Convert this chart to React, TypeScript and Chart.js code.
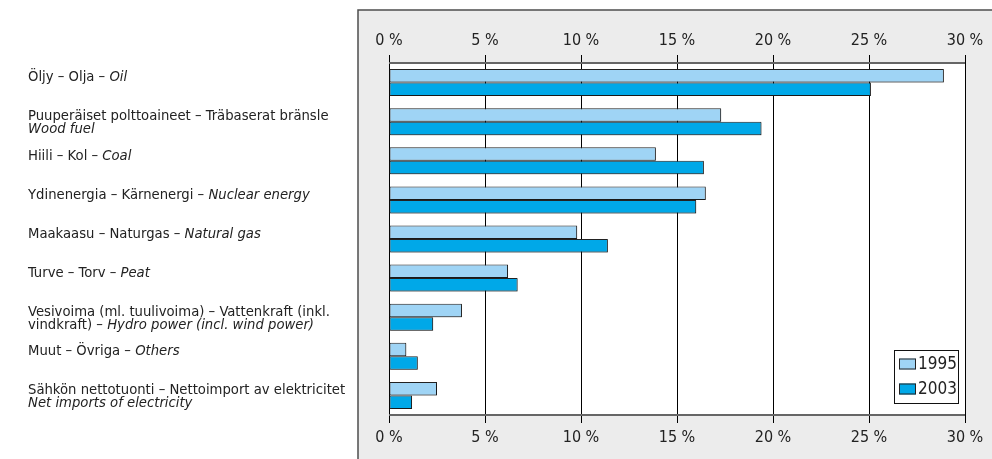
import React, { useEffect, useRef } from "react";
import { Chart, registerables } from "chart.js";

Chart.register(...registerables);

// ---- data ----
const categories = [
  "Oil",
  "Wood fuel",
  "Coal",
  "Nuclear energy",
  "Natural gas",
  "Peat",
  "Hydro power (incl. wind power)",
  "Others",
  "Net imports of electricity",
];

// label text lines: each line is a list of [text, italic]
const labelLines: [string, boolean][][][] = [
  [[["Öljy – Olja – ", false], ["Oil", true]]],
  [[["Puuperäiset polttoaineet – Träbaserat bränsle", false]], [["Wood fuel", true]]],
  [[["Hiili – Kol – ", false], ["Coal", true]]],
  [[["Ydinenergia – Kärnenergi – ", false], ["Nuclear energy", true]]],
  [[["Maakaasu – Naturgas – ", false], ["Natural gas", true]]],
  [[["Turve – Torv – ", false], ["Peat", true]]],
  [
    [["Vesivoima (ml. tuulivoima) – Vattenkraft (inkl.", false]],
    [["vindkraft) – ", false], ["Hydro power (incl. wind power)", true]],
  ],
  [[["Muut – Övriga – ", false], ["Others", true]]],
  [[["Sähkön nettotuonti – Nettoimport av elektricitet", false]], [["Net imports of electricity", true]]],
];

const series1995 = [28.9, 17.3, 13.9, 16.5, 9.8, 6.2, 3.8, 0.9, 2.5];
const series2003 = [25.1, 19.4, 16.4, 16.0, 11.4, 6.7, 2.3, 1.5, 1.2];
const seriesNames = ["1995", "2003"];
const xMin = 0;
const xMax = 30;
const xStep = 5;
const tickSuffix = " %";

const COLOR_1995 = "#9fd4f5";
const COLOR_2003 = "#00a8e8";
const FONT = '"Liberation Sans Narrow", "DejaVu Sans Condensed", "Roboto Condensed", "Liberation Sans", sans-serif';
const TEXT = "#222222";

const backgroundPlugin = {
  id: "bgPanel",
  beforeDraw(chart: any) {
    const { ctx, chartArea } = chart;
    ctx.save();
    ctx.fillStyle = "#ffffff";
    ctx.fillRect(0, 0, chart.width, chart.height);
    const bx = chartArea.left - 31;
    const by = chartArea.top - 53;
    ctx.fillStyle = "#ececec";
    ctx.fillRect(bx, by, chart.width - bx + 10, chart.height - by + 10);
    ctx.strokeStyle = "#4d4d4d";
    ctx.lineWidth = 1.5;
    ctx.strokeRect(bx, by, chart.width - bx + 10, chart.height - by + 10);
    ctx.fillStyle = "#ffffff";
    ctx.fillRect(chartArea.left, chartArea.top, chartArea.right - chartArea.left, chartArea.bottom - chartArea.top);
    ctx.restore();
  },
  beforeDatasetsDraw(chart: any) {
    const { ctx } = chart;
    ctx.save();
    ctx.shadowColor = "rgba(0,0,0,0.25)";
    ctx.shadowOffsetX = 1;
    ctx.shadowOffsetY = 1;
    ctx.shadowBlur = 0;
  },
  afterDatasetsDraw(chart: any) {
    chart.ctx.restore();
  },
  afterDraw(chart: any) {
    const { ctx, chartArea } = chart;
    ctx.save();
    ctx.strokeStyle = "#666666";
    ctx.lineWidth = 2;
    ctx.beginPath();
    ctx.moveTo(chartArea.left, chartArea.top);
    ctx.lineTo(chartArea.right, chartArea.top);
    ctx.moveTo(chartArea.left, chartArea.bottom);
    ctx.lineTo(chartArea.right, chartArea.bottom);
    ctx.stroke();

    // category labels
    const yScale = chart.scales.y;
    ctx.fillStyle = TEXT;
    ctx.textBaseline = "middle";
    ctx.textAlign = "left";
    const lh = 13;
    labelLines.forEach((lines, i) => {
      const cy = yScale.getPixelForValue(i);
      let y = lines.length === 1 ? cy - 5 : cy - 5.5;
      lines.forEach((segs) => {
        let x = 28;
        segs.forEach(([txt, it]) => {
          ctx.font = (it ? "italic " : "") + "14.7px " + FONT;
          ctx.fillText(txt, x, y);
          x += ctx.measureText(txt).width;
        });
        y += lh;
      });
    });

    // legend
    const lw = 64;
    const lhgt = 53;
    const lx = chartArea.right - 7 - lw;
    const ly = chartArea.bottom - 12 - lhgt;
    ctx.fillStyle = "#ffffff";
    ctx.fillRect(lx, ly, lw, lhgt);
    ctx.strokeStyle = "#111";
    ctx.lineWidth = 1;
    ctx.strokeRect(lx + 0.5, ly + 0.5, lw, lhgt);
    chart.data.datasets.forEach((ds: any, k: number) => {
      const ry = ly + 14 + k * 25;
      ctx.fillStyle = ds.backgroundColor;
      ctx.fillRect(lx + 5, ry - 5.5, 17, 11);
      ctx.strokeStyle = "#222";
      ctx.strokeRect(lx + 5.5, ry - 5, 16, 10);
      ctx.fillStyle = TEXT;
      ctx.font = "17px " + FONT;
      ctx.fillText(ds.label, lx + 24, ry + 1);
    });
    ctx.restore();
  },
};

const tickCfg = {
  stepSize: xStep,
  color: TEXT,
  padding: 5,
  font: { size: 16, family: FONT },
  callback: (v: any) => v + tickSuffix,
};

export default function App() {
  const ref = useRef<HTMLCanvasElement | null>(null);
  useEffect(() => {
    if (!ref.current) return;
    const chart = new Chart(ref.current, {
      type: "bar",
      data: {
        labels: categories,
        datasets: [
          {
            label: seriesNames[0],
            data: series1995,
            backgroundColor: COLOR_1995,
            borderColor: "#222",
            borderWidth: 1,
            borderSkipped: false,
            categoryPercentage: 0.69,
            barPercentage: 1,
          },
          {
            label: seriesNames[1],
            data: series2003,
            backgroundColor: COLOR_2003,
            borderColor: "#222",
            borderWidth: 1,
            borderSkipped: false,
            categoryPercentage: 0.69,
            barPercentage: 1,
          },
        ],
      },
      options: {
        indexAxis: "y",
        responsive: false,
        animation: false,
        devicePixelRatio: 1,
        layout: { padding: { left: 389, right: 27, top: 0, bottom: 0 } },
        plugins: { legend: { display: false }, tooltip: { enabled: false } },
        scales: {
          x: {
            type: "linear",
            position: "bottom",
            min: xMin,
            max: xMax,
            ticks: tickCfg,
            grid: { color: "#000", lineWidth: 1, tickLength: 8, drawTicks: true, tickColor: "#000" },
            border: { display: false },
            afterFit: (s: any) => {
              s.height = 44;
            },
          },
          x2: {
            type: "linear",
            position: "top",
            min: xMin,
            max: xMax,
            ticks: tickCfg,
            grid: { color: "#000", lineWidth: 1, tickLength: 8, drawTicks: true, drawOnChartArea: false, tickColor: "#000" },
            border: { display: false },
            afterFit: (s: any) => {
              s.height = 63;
            },
          },
          y: {
            type: "category",
            display: false,
            offset: true,
          },
        },
      } as any,
      plugins: [backgroundPlugin],
    });
    return () => chart.destroy();
  }, []);
  return (
    <div style={{ position: "fixed", left: 0, top: 0, width: 992, height: 459 }}>
      <canvas ref={ref} width={992} height={459} style={{ display: "block" }} />
    </div>
  );
}
